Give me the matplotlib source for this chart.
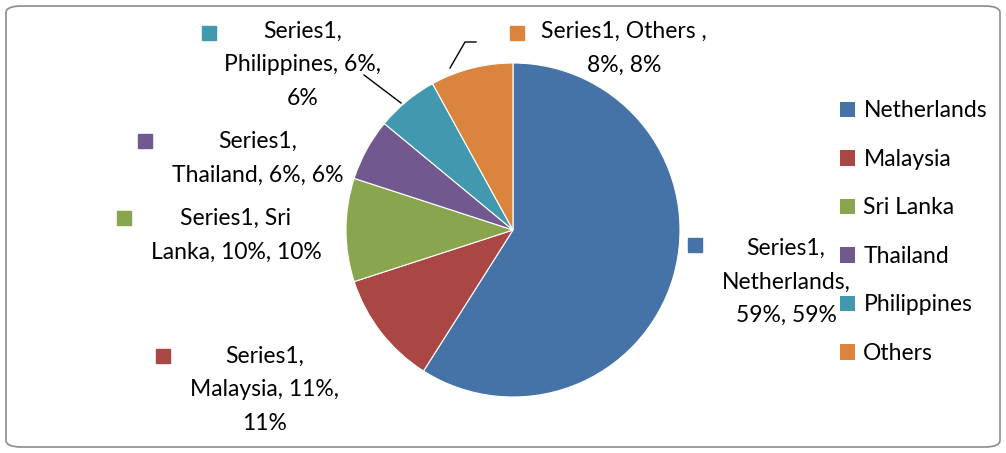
import matplotlib.pyplot as plt
from matplotlib.patches import FancyBboxPatch, Patch

# data
countries = ['Netherlands', 'Malaysia', 'Sri Lanka', 'Thailand', 'Philippines', 'Others']
shares = [59, 11, 10, 6, 6, 8]
colors = ['#4572A7', '#AA4643', '#89A54E', '#71588F', '#4198AF', '#DB843D']

# label text wrapped like the excel chart
label_texts = [
    'Series1,\nNetherlands,\n59%, 59%',
    'Series1,\nMalaysia, 11%,\n11%',
    'Series1, Sri\nLanka, 10%, 10%',
    'Series1,\nThailand, 6%, 6%',
    'Series1,\nPhilippines, 6%,\n6%',
    'Series1, Others ,\n8%, 8%',
]

plt.rcParams['font.family'] = ['Lato', 'DejaVu Sans']
W, H = 1006, 453
fig = plt.figure(figsize=(W / 100, H / 100), dpi=100)
ax = fig.add_axes([0, 0, 1, 1])

# pie, pixel layout (y measured from top)
cx, cy, r = 513, 230, 167
wedges, _ = ax.pie(shares, colors=colors, startangle=90, counterclock=False,
                   center=(cx, H - cy), radius=r, frame=True,
                   wedgeprops=dict(edgecolor='white', linewidth=0.8))
ax.set_xlim(0, W)
ax.set_ylim(0, H)
ax.set_aspect('equal')
ax.axis('off')

# label positions: (text centre x, first line y, marker x, marker y)
pos = [
    (786, 250, 695, 245),
    (265, 358, 163, 356),
    (236, 220, 124, 218),
    (258, 143, 145, 141),
    (303, 33, 209, 33),
    (624, 33, 517, 33),
]
fs = 16.5
for (tx, ty, mx, my), txt, c in zip(pos, label_texts, colors):
    ax.text(tx, H - ty + 12, txt, ha='center', va='top', fontsize=fs,
            linespacing=1.73, color='black')
    ax.plot([mx], [H - my], marker='s', markersize=10.5, color=c, linestyle='none')

# leader lines
ax.plot([476, 465, 450], [H - 42, H - 42, H - 68], color='black', lw=1)
ax.plot([364, 401], [H - 75, H - 103], color='black', lw=1)

# legend
handles = [Patch(facecolor=c, edgecolor='none') for c in colors]
ax.legend(handles, countries, loc='upper left', bbox_to_anchor=(829 / W, 1 - 89 / H),
          frameon=False, fontsize=fs, handlelength=0.65, handleheight=0.65,
          handletextpad=0.35, labelspacing=1.2, borderpad=0)

# rounded border
fig.patches.append(FancyBboxPatch((6 / W, 6 / H), 994 / W, 441 / H,
                                  boxstyle='round,pad=0,rounding_size=0.015',
                                  transform=fig.transFigure, facecolor='none',
                                  edgecolor='#8c8c8c', linewidth=1.2))

fig.savefig('out.png', dpi=100)
